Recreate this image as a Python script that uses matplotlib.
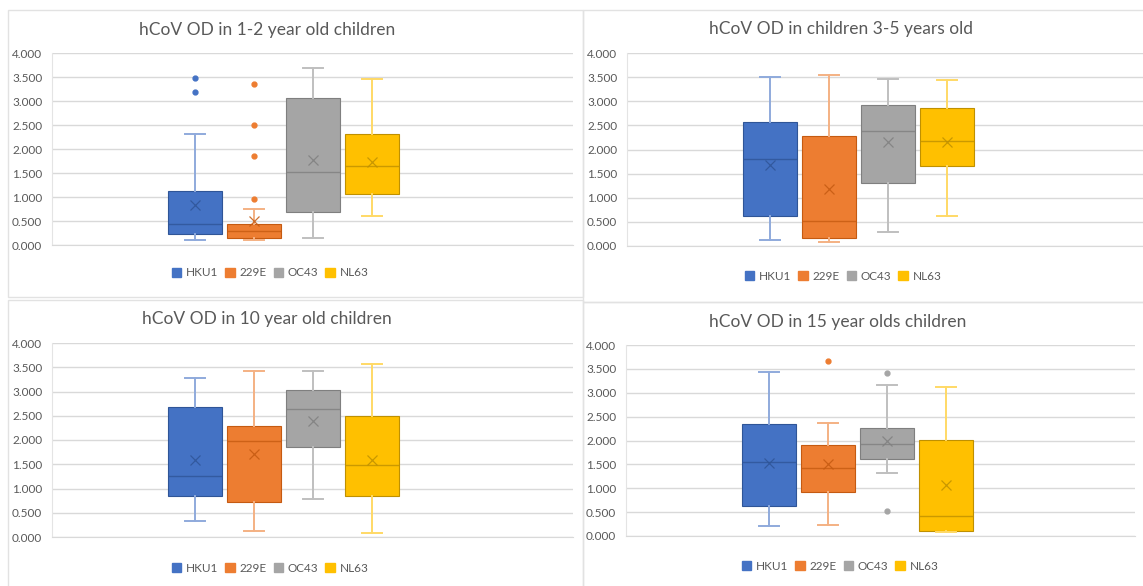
import matplotlib
matplotlib.use("Agg")
import matplotlib.pyplot as plt
from matplotlib.patches import Patch, Rectangle

plt.rcParams['font.family'] = ['Lato', 'DejaVu Sans']

titles = ["hCoV OD in 1-2 year old children",
          "hCoV OD in children 3-5 years old",
          "hCoV OD in 10 year old children",
          "hCoV OD in 15 year olds children"]
viruses = ["HKU1", "229E", "OC43", "NL63"]

# one row per age group, one value per virus
whisker_low = [[0.11, 0.10, 0.15, 0.61],
               [0.12, 0.08, 0.28, 0.63],
               [0.34, 0.12, 0.79, 0.08],
               [0.20, 0.23, 1.31, 0.08]]
q1 = [[0.22, 0.14, 0.69, 1.06],
      [0.62, 0.17, 1.30, 1.66],
      [0.84, 0.73, 1.86, 0.84],
      [0.63, 0.93, 1.61, 0.10]]
median = [[0.44, 0.30, 1.53, 1.65],
          [1.80, 0.51, 2.38, 2.18],
          [1.25, 1.98, 2.64, 1.48],
          [1.54, 1.43, 1.92, 0.41]]
q3 = [[1.13, 0.44, 3.07, 2.32],
      [2.58, 2.27, 2.93, 2.87],
      [2.68, 2.29, 3.03, 2.49],
      [2.34, 1.90, 2.26, 2.01]]
whisker_high = [[2.32, 0.74, 3.69, 3.46],
                [3.51, 3.55, 3.47, 3.44],
                [3.28, 3.42, 3.42, 3.56],
                [3.43, 2.36, 3.16, 3.11]]
means = [[0.83, 0.51, 1.77, 1.73],
         [1.68, 1.18, 2.16, 2.16],
         [1.58, 1.71, 2.40, 1.58],
         [1.52, 1.50, 1.99, 1.07]]
outliers = [[[3.48, 3.19], [3.36, 2.51, 1.86, 0.95], [], []],
            [[], [], [], []],
            [[], [], [], []],
            [[], [3.66], [3.41, 0.52], []]]

fill = ["#4472C4", "#ED7D31", "#A5A5A5", "#FFC000"]
dark = ["#2F5597", "#C55A11", "#7F7F7F", "#BF9000"]
light = ["#8FAADC", "#F4B183", "#BFBFBF", "#FFD966"]
grid = "#D9D9D9"
txt = "#595959"

W, H = 1143, 586
fig = plt.figure(figsize=(W / 100, H / 100), dpi=100)
fig.patch.set_facecolor("white")


def px_box(l, t, r, b):
    return [l / W, 1 - b / H, (r - l) / W, (b - t) / H]


# plot areas (left, top, right, bottom) in pixels
areas = [(52, 53, 573, 245), (627, 53, 1143, 246),
         (52, 343, 573, 537), (626, 345, 1135, 536)]
title_xy = [(267, 30), (841, 29), (267, 319), (838, 322)]
legend_xy = [(270, 273), (843, 276), (270, 568), (840, 566)]
frames = [(8, 10, 583, 297), (583, 10, 1150, 302),
          (8, 300, 583, 590), (583, 302, 1150, 590)]

for l, t, r, b in frames:
    fig.add_artist(Rectangle((l / W, 1 - b / H), (r - l) / W, (b - t) / H,
                             transform=fig.transFigure, fill=False,
                             edgecolor="#E2E2E2", lw=1.0))

pos = [1, 2, 3, 4]
step = 59.0  # pixels between neighbouring boxes

for k in range(4):
    l, t, r, b = areas[k]
    ax = fig.add_axes(px_box(l, t, r, b))
    stats = []
    for i in range(4):
        stats.append(dict(whislo=whisker_low[k][i], q1=q1[k][i], med=median[k][i],
                          q3=q3[k][i], whishi=whisker_high[k][i],
                          mean=means[k][i], fliers=outliers[k][i]))
    parts = ax.bxp(stats, positions=pos, widths=0.9, capwidths=0.33,
                   patch_artist=True, showmeans=True, zorder=3)
    for i in range(4):
        box = parts['boxes'][i]
        box.set_facecolor(fill[i])
        box.set_edgecolor(dark[i])
        box.set_linewidth(0.8)
        parts['medians'][i].set(color=dark[i], lw=1.0, alpha=0.8)
        for w in parts['whiskers'][2 * i:2 * i + 2] + parts['caps'][2 * i:2 * i + 2]:
            w.set(color=light[i], lw=1.4)
        parts['means'][i].set(marker='x', markersize=7, markeredgewidth=0.9,
                              markeredgecolor=dark[i], alpha=0.85)
        parts['fliers'][i].set(marker='o', markersize=3.5, markerfacecolor=fill[i],
                               markeredgecolor=fill[i])

    # first box sits 143 px in from the left edge of the plot area
    x0 = 1 - 143 / step
    ax.set_xlim(x0, x0 + (r - l) / step)
    ax.set_ylim(0, 4)
    ax.set_yticks([0, 0.5, 1, 1.5, 2, 2.5, 3, 3.5, 4])
    ax.set_yticklabels(["%.3f" % v for v in ax.get_yticks()])
    ax.set_xticks([])
    ax.tick_params(axis='y', length=0, pad=7, labelsize=8.5, labelcolor=txt)
    ax.yaxis.grid(True, color=grid, lw=1.0)
    ax.set_axisbelow(True)
    for s in ['top', 'right']:
        ax.spines[s].set_visible(False)
    ax.spines['left'].set_color("#E4E4E4")
    ax.spines['bottom'].set_color(grid)

    tx, ty = title_xy[k]
    fig.text(tx / W, 1 - ty / H, titles[k], ha='center', va='center',
             fontsize=12.5, color=txt)

    handles = [Patch(facecolor=fill[i], edgecolor=fill[i], label=viruses[i]) for i in range(4)]
    lx, ly = legend_xy[k]
    fig.legend(handles=handles, loc='center', bbox_to_anchor=(lx / W, 1 - ly / H),
               ncol=4, frameon=False, fontsize=8.5, labelcolor=txt,
               handlelength=0.8, handleheight=0.8, handletextpad=0.4,
               columnspacing=0.6)

fig.savefig("out.png", dpi=100, facecolor="white")
